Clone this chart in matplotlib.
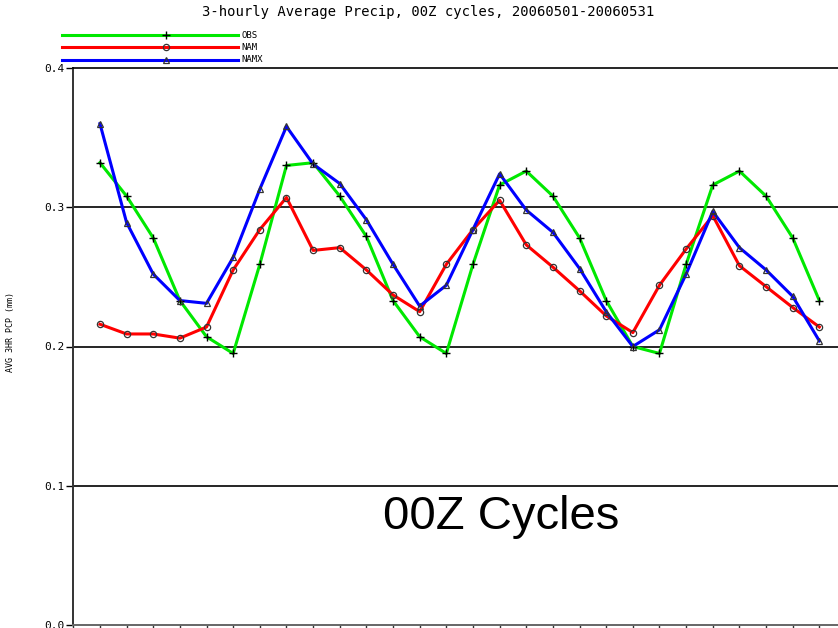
import matplotlib
matplotlib.use("Agg")
import matplotlib.pyplot as plt
import numpy as np

# 3-hourly mean precipitation, 28 forecast intervals (00Z cycles)
obs = [0.332, 0.308, 0.278, 0.233, 0.207, 0.195, 0.259, 0.330, 0.332, 0.308,
       0.279, 0.233, 0.207, 0.195, 0.259, 0.316, 0.326, 0.308, 0.278, 0.233,
       0.200, 0.195, 0.259, 0.316, 0.326, 0.308, 0.278, 0.233]
nam = [0.216, 0.209, 0.209, 0.206, 0.214, 0.255, 0.284, 0.307, 0.269, 0.271,
       0.255, 0.237, 0.225, 0.259, 0.284, 0.305, 0.273, 0.257, 0.240, 0.222,
       0.210, 0.244, 0.270, 0.294, 0.258, 0.243, 0.228, 0.214]
namx = [0.360, 0.289, 0.252, 0.233, 0.231, 0.264, 0.313, 0.358, 0.331, 0.317,
        0.291, 0.259, 0.229, 0.244, 0.284, 0.324, 0.298, 0.282, 0.256, 0.225,
        0.200, 0.212, 0.252, 0.297, 0.271, 0.255, 0.236, 0.204]
series_names = ["OBS", "NAM", "NAMX"]
series_colors = ["#00e800", "#ff0000", "#0000ff"]
series_markers = ["+", "o", "^"]
y_ticks = [0.0, 0.1, 0.2, 0.3, 0.4]
y_labels = ["0.0", "0.1", "0.2", "0.3", "0.4"]

W, H = 838, 628
fig = plt.figure(figsize=(W / 100, H / 100), dpi=100)

x = np.arange(len(obs))
ax = fig.add_axes([73.3 / W, 3 / H, 1 - 73.3 / W, (625 - 68) / H])
ax.set_xlim(-1, 27.7)
ax.set_ylim(0.0, 0.4)

for yv in [0.1, 0.2, 0.3]:
    ax.axhline(yv, color="black", lw=1.2, zorder=1)

for vals, col, mk in zip([obs, nam, namx], series_colors, series_markers):
    ax.plot(x, vals, color=col, lw=2.2, zorder=2)
    if mk == "+":
        ax.plot(x, vals, ls="none", marker=mk, ms=6, mec="black", mew=1.0, zorder=3)
    else:
        ax.plot(x, vals, ls="none", marker=mk, ms=4.5, mfc="none", mec="#333333",
                mew=0.9, zorder=3)

ax.spines["right"].set_visible(False)
ax.spines["top"].set_color("black")
ax.spines["top"].set_linewidth(1.2)
ax.spines["left"].set_color("#333333")
ax.spines["left"].set_linewidth(1.4)
ax.spines["bottom"].set_color("#666666")
ax.spines["bottom"].set_linewidth(1.4)

ax.set_xticks(np.arange(-1, 28))
ax.set_xticklabels([])
ax.tick_params(axis="x", direction="out", length=5, width=1.0, color="#333333")
ax.set_yticks(y_ticks)
ax.set_yticklabels(y_labels, fontfamily="DejaVu Sans Mono", fontsize=8)
ax.tick_params(axis="y", direction="out", length=5, width=1.0, pad=1)

ax.set_ylabel("AVG 3HR PCP (mm)", fontfamily="DejaVu Sans Mono", fontsize=6,
              labelpad=0)
ax.yaxis.set_label_coords((15 - 73.3) / (W - 73.3), 0.526)

ax.text(0.56, 0.193, "00Z Cycles", transform=ax.transAxes, ha="center",
        va="center", fontsize=34, family="Liberation Sans", color="black")

fig.text(428 / W, 1 - 12 / H, "3-hourly Average Precip, 00Z cycles, 20060501-20060531",
         ha="center", va="center", fontsize=10, family="DejaVu Sans Mono")

# legend drawn in figure pixel space
lg = fig.add_axes([0, 0, 1, 1], facecolor="none")
lg.set_xlim(0, W)
lg.set_ylim(H, 0)
lg.axis("off")
for k, (name, col, mk) in enumerate(zip(series_names, series_colors, series_markers)):
    yy = 35 + 12.3 * k
    lg.plot([62, 238], [yy, yy], color=col, lw=2.2)
    if mk == "+":
        lg.plot([166], [yy], marker=mk, ms=6, mec="black", mew=1.0)
    else:
        lg.plot([166], [yy], marker=mk, ms=4.5, mfc="none", mec="#333333", mew=0.9)
    lg.text(241, yy, name, ha="left", va="center", fontsize=6.5,
            family="DejaVu Sans Mono")

fig.savefig("out.png", dpi=100)
